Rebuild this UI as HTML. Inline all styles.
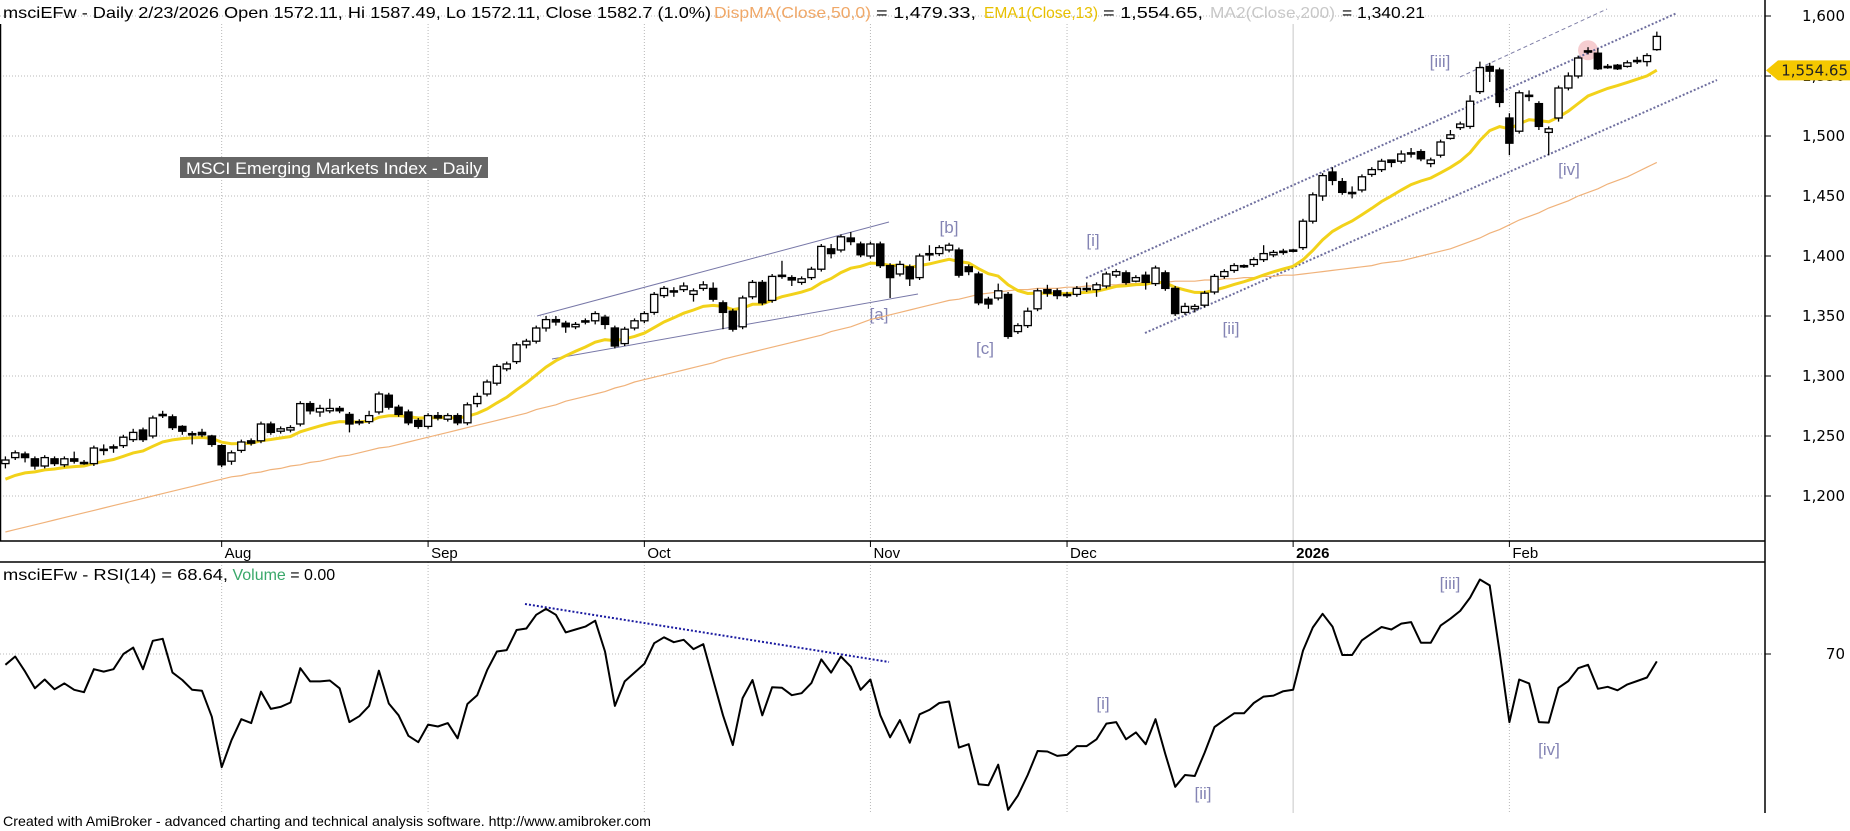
<!DOCTYPE html>
<html><head><meta charset="utf-8">
<style>
html,body{margin:0;padding:0;background:#fff;}
svg{display:block;font-family:"Liberation Sans",Arial,sans-serif;}
</style></head>
<body>
<svg id="chart" width="1850" height="831" viewBox="0 0 1850 831" xmlns="http://www.w3.org/2000/svg">
<rect x="0" y="0" width="1850" height="831" fill="#fff"/>
<g id="grid"></g>
<g id="annot"></g>
<g id="ma"></g>
<g id="candles"></g>
<g id="rsi"></g>
<g id="axes"></g>

<text x="3" y="18" font-size="16" fill="#000"><tspan textLength="708" lengthAdjust="spacingAndGlyphs">msciEFw - Daily 2/23/2026 Open 1572.11, Hi 1587.49, Lo 1572.11, Close 1582.7 (1.0%)</tspan></text>
<text x="714" y="18" font-size="16" fill="#f0a868" textLength="157" lengthAdjust="spacingAndGlyphs">DispMA(Close,50,0)</text>
<text x="876" y="18" font-size="16" fill="#000" textLength="100" lengthAdjust="spacingAndGlyphs">= 1,479.33,</text>
<text x="984" y="18" font-size="16" fill="#e8c000" textLength="114" lengthAdjust="spacingAndGlyphs">EMA1(Close,13)</text>
<text x="1103" y="18" font-size="16" fill="#000" textLength="100" lengthAdjust="spacingAndGlyphs">= 1,554.65,</text>
<text x="1210" y="18" font-size="16" fill="#c8c8c8" textLength="125" lengthAdjust="spacingAndGlyphs">MA2(Close,200)</text>
<text x="1342" y="18" font-size="16" fill="#000" textLength="83" lengthAdjust="spacingAndGlyphs">= 1,340.21</text>

<rect x="180" y="157" width="308" height="21" fill="#666"/>
<text x="186" y="174" font-size="17" fill="#fff" textLength="296" lengthAdjust="spacingAndGlyphs">MSCI Emerging Markets Index - Daily</text>

<text x="3" y="580" font-size="16" fill="#000"><tspan textLength="225" lengthAdjust="spacingAndGlyphs">msciEFw - RSI(14) = 68.64,</tspan><tspan fill="#3aa86a"> Volume</tspan><tspan> = 0.00</tspan></text>

<text x="3" y="826" font-size="14" fill="#000" textLength="648" lengthAdjust="spacingAndGlyphs">Created with AmiBroker - advanced charting and technical analysis software. http://www.amibroker.com</text>
</svg>
<script>
const opens=[1227,1232,1235,1231,1225,1231,1226,1231,1228,1227,1239,1241,1242,1247,1255,1250,1268,1266,1258,1252,1253,1250,1242,1229,1238,1246,1246,1260,1254,1255,1260,1277,1270,1271,1273,1268,1262,1262,1270,1284,1274,1270,1263,1258,1267,1264,1267,1261,1277,1285,1294,1306,1312,1326,1329,1340,1347,1344,1341,1345,1346,1349,1340,1327,1340,1346,1353,1367,1371,1372,1368,1373,1373,1361,1354,1341,1366,1378,1363,1384,1382,1378,1382,1389,1406,1405,1415,1410,1400,1410,1392,1385,1391,1382,1402,1402,1405,1405,1391,1385,1364,1365,1368,1337,1342,1356,1372,1371,1368,1368,1373,1372,1375,1384,1386,1379,1384,1377,1386,1373,1353,1356,1359,1370,1383,1388,1392,1393,1397,1401,1404,1405,1407,1429,1450,1470,1462,1453,1455,1468,1472,1480,1479,1486,1487,1477,1484,1498,1507,1508,1537,1558,1555,1515,1504,1534,1527,1503,1515,1540,1550,1571,1569,1558,1559,1558,1563,1562,1572];
const closes=[1230,1236,1232,1225,1232,1227,1231,1229,1228,1240,1239,1240,1249,1253,1247,1265,1267,1257,1254,1252,1251,1243,1226,1236,1245,1244,1260,1253,1256,1257,1277,1271,1273,1273,1271,1260,1261,1267,1285,1274,1268,1261,1258,1267,1265,1267,1261,1276,1283,1295,1308,1310,1326,1329,1340,1347,1345,1341,1343,1346,1352,1343,1325,1339,1346,1352,1368,1373,1370,1375,1371,1376,1364,1353,1339,1365,1378,1361,1383,1383,1380,1381,1389,1408,1402,1416,1412,1401,1410,1392,1382,1393,1381,1400,1402,1407,1409,1384,1387,1361,1360,1371,1333,1342,1354,1371,1369,1367,1368,1373,1372,1376,1385,1387,1378,1382,1378,1390,1373,1352,1358,1358,1369,1383,1387,1392,1392,1397,1402,1403,1403,1405,1429,1451,1467,1463,1453,1453,1466,1472,1479,1478,1485,1486,1481,1480,1495,1501,1510,1529,1557,1554,1528,1494,1536,1534,1508,1506,1540,1550,1565,1571,1556,1558,1556,1561,1563,1567,1583];
const highs=[1233,1238,1237,1233,1234,1233,1233,1237,1230,1242,1243,1243,1251,1256,1257,1267,1271,1268,1259,1254,1256,1251,1243,1238,1247,1248,1262,1262,1258,1259,1279,1279,1276,1281,1275,1270,1264,1271,1287,1286,1276,1272,1265,1269,1270,1269,1269,1278,1286,1297,1310,1312,1328,1331,1342,1350,1350,1346,1345,1348,1354,1351,1342,1341,1348,1354,1370,1375,1374,1378,1373,1379,1378,1363,1356,1367,1380,1380,1385,1396,1384,1383,1391,1410,1410,1418,1420,1412,1412,1412,1394,1396,1393,1402,1409,1409,1411,1407,1393,1387,1366,1377,1370,1344,1357,1373,1376,1373,1370,1375,1378,1378,1387,1389,1388,1384,1387,1392,1388,1375,1361,1360,1371,1385,1389,1394,1393,1399,1409,1405,1406,1406,1431,1453,1469,1474,1465,1458,1468,1474,1481,1480,1488,1490,1489,1482,1497,1505,1512,1534,1562,1561,1557,1519,1538,1538,1529,1508,1542,1553,1567,1574,1573,1560,1560,1563,1566,1569,1587];
const lows=[1223,1230,1228,1222,1223,1225,1224,1227,1226,1225,1234,1236,1240,1245,1245,1248,1265,1255,1251,1243,1249,1241,1224,1226,1236,1242,1244,1251,1252,1253,1258,1268,1266,1269,1269,1253,1259,1260,1268,1272,1266,1259,1256,1256,1263,1262,1259,1259,1274,1283,1292,1304,1310,1323,1327,1337,1342,1336,1339,1343,1343,1339,1323,1325,1338,1344,1351,1365,1366,1370,1362,1371,1362,1339,1337,1339,1364,1359,1361,1381,1375,1376,1380,1387,1398,1403,1409,1399,1398,1390,1365,1383,1375,1380,1396,1400,1403,1382,1384,1359,1356,1363,1331,1335,1340,1354,1366,1364,1365,1366,1370,1366,1373,1382,1376,1378,1372,1375,1371,1350,1351,1353,1357,1368,1381,1386,1390,1391,1395,1399,1401,1403,1405,1427,1446,1459,1451,1448,1453,1466,1470,1474,1477,1482,1479,1474,1482,1497,1505,1506,1535,1545,1524,1484,1502,1529,1505,1484,1512,1538,1548,1568,1555,1556,1555,1557,1560,1558,1571];
const ma50=[1170,1172,1174,1176,1178,1180,1182,1184,1186,1188,1190,1192,1194,1196,1198,1200,1202,1204,1206,1208,1210,1212,1214,1216,1217,1219,1220,1222,1223,1225,1226,1228,1229,1231,1233,1234,1236,1238,1240,1241,1243,1245,1247,1249,1251,1253,1255,1257,1259,1261,1263,1265,1267,1269,1272,1274,1276,1279,1281,1283,1285,1287,1290,1292,1295,1297,1299,1301,1303,1305,1307,1309,1311,1314,1316,1318,1320,1322,1324,1326,1328,1330,1332,1334,1337,1339,1341,1344,1347,1349,1351,1353,1355,1357,1359,1361,1363,1364,1366,1368,1369,1370,1371,1372,1372,1373,1373,1373,1374,1374,1375,1375,1376,1376,1377,1377,1378,1378,1378,1379,1379,1379,1380,1380,1381,1381,1382,1382,1383,1383,1384,1384,1385,1386,1387,1388,1389,1390,1391,1392,1394,1395,1396,1398,1400,1402,1404,1406,1409,1412,1415,1419,1422,1426,1430,1433,1436,1440,1443,1446,1450,1453,1456,1460,1463,1466,1470,1474,1478];
const rsiVals=[67.8,69.5,66.4,63.0,64.8,62.8,64.0,62.7,62.2,66.9,66.4,66.9,70.0,71.3,66.9,72.7,73.1,66.2,64.7,62.7,62.5,57.2,46.9,52.4,56.7,55.9,62.3,58.8,59.2,60.1,67.1,64.4,64.4,64.6,63.0,56.1,57.3,59.4,66.6,59.9,57.5,53.3,52.0,55.6,55.2,55.9,52.8,59.8,61.6,66.7,70.5,70.8,74.9,75.2,78.0,79.2,78.0,74.4,75.0,75.6,76.8,70.5,59.4,64.4,66.2,68.0,72.2,73.4,72.4,72.9,71.0,72.0,64.7,57.5,51.4,61.0,64.7,57.5,63.2,63.1,61.6,62.0,64.1,68.9,66.2,69.5,67.4,62.7,64.8,57.5,53.0,56.5,51.9,57.7,58.6,60.0,60.3,50.9,51.6,43.4,43.2,47.4,38.2,41.1,45.3,50.2,50.1,49.2,49.4,51.2,51.2,52.6,55.8,56.1,52.6,54.0,51.6,56.7,49.6,42.9,45.3,45.1,49.9,55.1,56.5,57.9,57.9,60.0,61.3,61.5,62.4,62.7,70.7,75.4,78.2,75.6,69.8,69.8,72.8,74.2,75.5,75.0,76.2,76.5,72.3,72.3,75.8,77.2,78.8,81.5,85.2,84.0,70.4,56.1,64.8,64.0,56.1,56.0,63.1,64.5,67.1,67.8,62.9,63.3,62.6,63.8,64.5,65.2,68.5];
const priceTicks=[1600,1550,1500,1450,1400,1350,1300,1250,1200];
const priceTickLabels=["1,600","1,550","1,500","1,450","1,400","1,350","1,300","1,250","1,200"];
const monthNames=["Aug","Sep","Oct","Nov","Dec","2026","Feb"];
const monthBars=[22,43,65,88,108,131,153];
const rsiTicks=[70];
const emaSeed=1214;
const lastEma=1554.65;

const NS="http://www.w3.org/2000/svg";
function bx(i){return 5.4+i*9.83;}
function py(p){return 16+(1600-p)*1.2;}
function ry(r){return 654+(70-r)*4.9;}
function mk(tag,attrs,parent){const e=document.createElementNS(NS,tag);for(const k in attrs)e.setAttribute(k,attrs[k]);parent.appendChild(e);return e;}
const G=id=>document.getElementById(id);
const grid=G('grid'),annot=G('annot'),maG=G('ma'),cg=G('candles'),rg=G('rsi'),ax=G('axes');

priceTicks.forEach(t=>{
  const l=mk('line',{x1:0,x2:1765,y1:py(t),y2:py(t),stroke:'#b8b8b8','stroke-dasharray':'1,2'},grid);
  
  
});
rsiTicks.forEach(t=>{
  const l=mk('line',{x1:0,x2:1765,y1:ry(t),y2:ry(t),stroke:'#b8b8b8','stroke-dasharray':'1,2'},grid);
  
  
});
monthBars.forEach((b,k)=>{
  const x=bx(b);
  const solid=monthNames[k]==='2026';
  [[24,541],[562,813]].forEach(r=>{
    const l=mk('line',{x1:x,x2:x,y1:r[0],y2:r[1],stroke:solid?'#c8c8c8':'#b8b8b8','stroke-dasharray':solid?'none':'1,2'},grid);
    
    
  });
  const tk=mk('line',{x1:x,x2:x,y1:541,y2:547,stroke:'#000'},ax);
  
  
  const tx=mk('text',{x:x+3,y:558,'font-size':15,fill:'#000','font-weight':solid?'bold':'normal'},ax);
  tx.textContent=monthNames[k];
  
  
});

let d='';
ma50.forEach((v,i)=>{d+=(i?'L':'M')+bx(i).toFixed(1)+','+py(v).toFixed(1);});
const maLine=mk('path',{d:d,fill:'none',stroke:'#f0b27a','stroke-width':1.2},maG);



let e=emaSeed;const k2=2/14;d='';
closes.forEach((c,i)=>{if(i>0)e=c*k2+e*(1-k2);d+=(i?'L':'M')+bx(i).toFixed(1)+','+py(e).toFixed(1);});
const emaLine=mk('path',{d:d,fill:'none',stroke:'#f2d21a','stroke-width':3},maG);



const hc=mk('circle',{cx:bx(161),cy:py(highs[161])+3,r:10,fill:'#f6cdd0'},annot);



opens.forEach((o,i)=>{
  const c=closes[i],x=bx(i);
  const g=mk('g',{},cg);
  
  
  mk('line',{x1:x,x2:x,y1:py(highs[i]),y2:py(lows[i]),stroke:'#000','stroke-width':1.3},g);
  const top=py(Math.max(o,c)),bot=py(Math.min(o,c));
  const h=Math.max(bot-top,1.3);
  mk('rect',{x:x-3.6,y:top,width:7.2,height:h,fill:c>=o?'#fff':'#000',stroke:'#000','stroke-width':1.3},g);
});

const chLines=[
 {n:'channel-upper-autumn',x1:537,y1:316,x2:889,y2:222,s:'#7878a8',da:'none',w:1},
 {n:'channel-lower-autumn',x1:552,y1:359,x2:918,y2:294,s:'#7878a8',da:'none',w:1},
 {n:'channel-upper-dotted',x1:1086,y1:278,x2:1677,y2:13,s:'#6f6f9f',da:'2,2',w:2},
 {n:'channel-lower-dotted',x1:1145,y1:333,x2:1717,y2:80,s:'#6f6f9f',da:'2,2',w:2},
 {n:'channel-outer-dashed',x1:1460,y1:77,x2:1607,y2:9,s:'#8080a8',da:'4,3',w:1},
 {n:'rsi-downtrend-line',x1:525,y1:604,x2:889,y2:662,s:'#1a1aa0',da:'2,2',w:2}
];
chLines.forEach(L=>{
  const l=mk('line',{x1:L.x1,y1:L.y1,x2:L.x2,y2:L.y2,stroke:L.s,'stroke-dasharray':L.da,'stroke-width':L.w},annot);
  
  
});
const waveLabels=[["[iii]",1440,67],["[iv]",1569,175],["[b]",949,233],["[a]",879,320],["[c]",985,354],["[i]",1093,246],["[ii]",1231,334],["[i]",1103,709],["[ii]",1203,799],["[iii]",1450,589],["[iv]",1549,755]];
waveLabels.forEach(w=>{
  const t=mk('text',{x:w[1],y:w[2],'font-size':17,fill:'#8484b4','text-anchor':'middle'},annot);
  t.textContent=w[0];
  
  
});

d='';
rsiVals.forEach((v,i)=>{d+=(i?'L':'M')+bx(i).toFixed(1)+','+ry(v).toFixed(1);});
const rl=mk('path',{d:d,fill:'none',stroke:'#000','stroke-width':2,'stroke-linejoin':'round'},rg);



[[0,541,1765,541],[0,562,1765,562],[1765,0,1765,813],[0.5,24,0.5,541]].forEach(a=>{
  const l=mk('line',{x1:a[0],y1:a[1],x2:a[2],y2:a[3],stroke:'#000','stroke-width':1.5},ax);
  
  
});
priceTicks.forEach((t,i)=>{
  const tk=mk('line',{x1:1765,x2:1771,y1:py(t),y2:py(t),stroke:'#000'},ax);
  
  
  const tx=mk('text',{x:1845,y:py(t)+5,'font-size':15,'text-anchor':'end',fill:'#000','font-family':'"DejaVu Sans",sans-serif'},ax);
  tx.textContent=priceTickLabels[i];
  
  
});
rsiTicks.forEach(t=>{
  const tk=mk('line',{x1:1765,x2:1771,y1:ry(t),y2:ry(t),stroke:'#000'},ax);
  
  
  const tx=mk('text',{x:1845,y:ry(t)+5,'font-size':15,'text-anchor':'end',fill:'#000','font-family':'"DejaVu Sans",sans-serif'},ax);
  tx.textContent=String(t);
  
  
});
const yb=py(lastEma);
const badge=mk('path',{d:`M1766,${yb} L1778,${yb-10} L1850,${yb-10} L1850,${yb+10} L1778,${yb+10} Z`,fill:'#f5c800'},ax);


const bt=mk('text',{x:1848,y:yb+5,'font-size':15,'text-anchor':'end',fill:'#222','font-family':'"DejaVu Sans",sans-serif'},ax);
bt.textContent=lastEma.toLocaleString('en-US',{minimumFractionDigits:2});


</script>
</body></html>
